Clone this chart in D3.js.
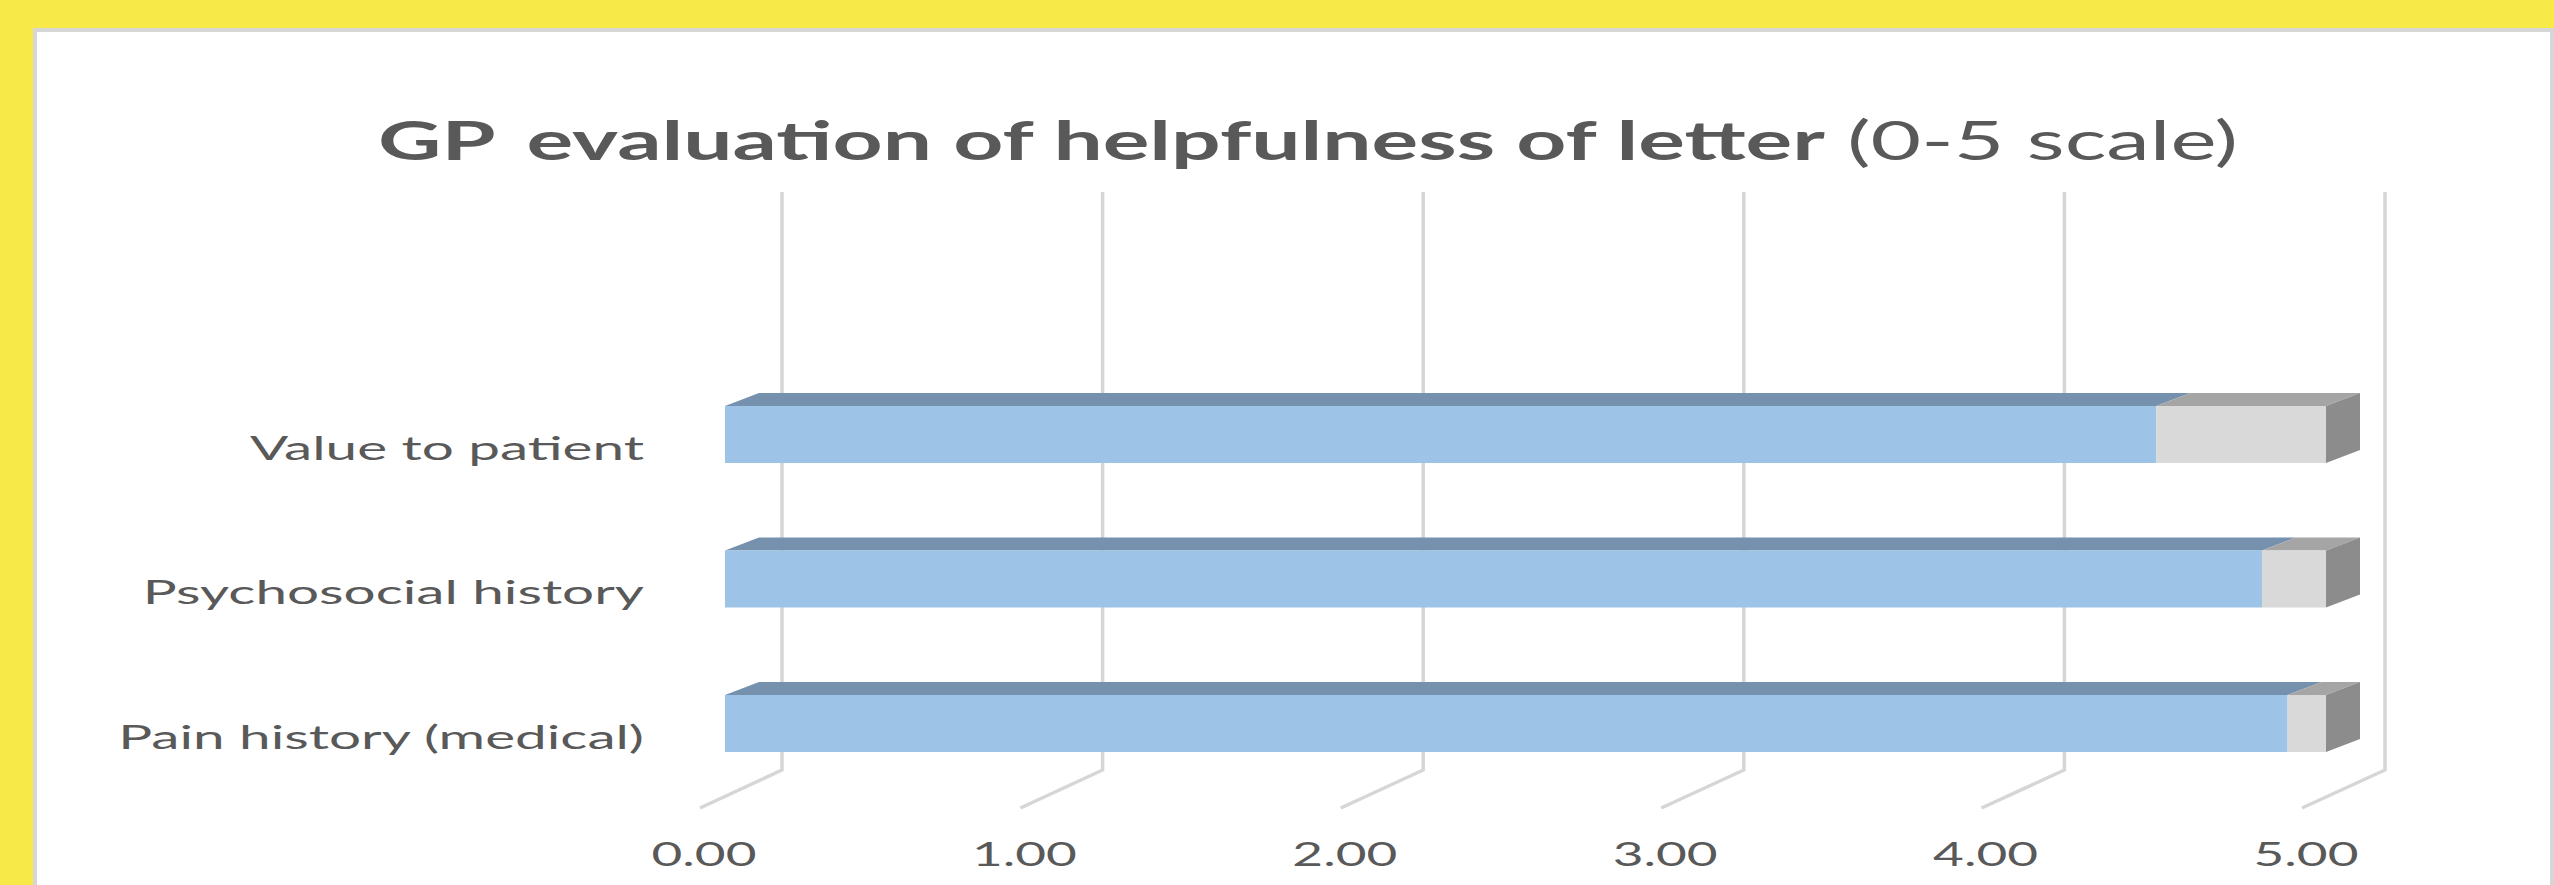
<!DOCTYPE html>
<html>
<head>
<meta charset="utf-8">
<script src="https://cdn.jsdelivr.net/npm/d3@7/dist/d3.min.js"></script>
<style>
  html, body { margin: 0; padding: 0; background: #f6e948; }
  svg { display: block; }
</style>
</head>
<body>
<svg id="chart" width="2554" height="885"></svg>
<script>
// ---- data ----
const categories = ["Value to patient", "Psychosocial history", "Pain history (medical)"];
const helpfulness = [4.47, 4.80, 4.88];
const remainder = [0.53, 0.20, 0.12];
const tickValues = [0, 1, 2, 3, 4, 5];
const tickLabels = ["0.00", "1.00", "2.00", "3.00", "4.00", "5.00"];
const titleBoldA = "GP";
const titleBoldB = " evaluation of helpfulness of letter";
const titleRegular = " (0-5 scale)";

// ---- layout ----
const W = 2554, H = 885;
const svg = d3.select("#chart");

svg.append("rect").attr("x", 35).attr("y", 30).attr("width", W - 37).attr("height", H)
  .attr("fill", "#ffffff").attr("stroke", "#d6d6d6").attr("stroke-width", 4);

// scales
const xBack = d3.scaleLinear().domain([0, 5]).range([782, 2385]);   // back wall
const xFloor = d3.scaleLinear().domain([0, 5]).range([700, 2302]);  // floor front edge
const xBar = d3.scaleLinear().domain([0, 5]).range([725, 2326]);    // bar front faces
const y = d3.scalePoint().domain(categories).range([434.5, 723.5]);
const barH = 57, depthX = 34, depthY = 13;
const gridTop = 192, wallBottom = 770, floorFront = 808;

// gridlines (back wall + floor)
const grid = svg.append("g");
tickValues.forEach(v => {
  grid.append("path")
    .attr("d", `M${xBack(v)},${gridTop} L${xBack(v)},${wallBottom} L${xFloor(v)},${floorFront}`)
    .attr("fill", "none").attr("stroke", "#d6d6d6").attr("stroke-width", 3.5);
});

// bars
const series = [
  { values: helpfulness, start: categories.map(() => 0), front: "#9dc3e6", top: "#7591ae", side: "#6f8aa6" },
  { values: remainder, start: helpfulness, front: "#d9d9d9", top: "#a5a5a5", side: "#8c8c8c" }
];
const bars = svg.append("g");
categories.forEach((c, i) => {
  const top = y(c) - barH / 2, bottom = y(c) + barH / 2;
  series.forEach((s, si) => {
    const x0 = xBar(s.start[i]), x1 = xBar(s.start[i] + s.values[i]);
    bars.append("path")
      .attr("d", `M${x0},${top} L${x1},${top} L${x1 + depthX},${top - depthY} L${x0 + depthX},${top - depthY} Z`)
      .attr("fill", s.top);
    if (si === series.length - 1) {
      bars.append("path")
        .attr("d", `M${x1},${top} L${x1 + depthX},${top - depthY} L${x1 + depthX},${bottom - depthY} L${x1},${bottom} Z`)
        .attr("fill", s.side);
    }
  });
  series.forEach(s => {
    const x0 = xBar(s.start[i]), x1 = xBar(s.start[i] + s.values[i]);
    bars.append("rect").attr("x", x0).attr("y", top).attr("width", x1 - x0).attr("height", barH)
      .attr("fill", s.front);
  });
});

// helper: stretch text horizontally to a target width (reference image is stretched)
function stretch(sel, targetWidth) {
  const w = sel.node().getComputedTextLength();
  return targetWidth / w;
}

// category labels
const labelG = svg.append("g");
const labels = categories.map(c =>
  labelG.append("text").text(c)
    .attr("font-family", "Lato, 'Open Sans', sans-serif").attr("font-size", 33)
    .attr("fill", "#595959").attr("text-anchor", "end"));
const sxLab = stretch(labels[2], 526);
labels.forEach((t, i) => {
  t.attr("transform", `translate(644,${y(categories[i]) + 25}) scale(${sxLab},1)`);
});

// tick labels
const tickG = svg.append("g");
const ticks = tickValues.map((v, i) =>
  tickG.append("text").text(tickLabels[i])
    .attr("font-family", "Lato, 'Open Sans', sans-serif").attr("font-size", 33)
    .attr("fill", "#595959").attr("text-anchor", "middle"));
const sxTick = stretch(ticks[0], 105);
ticks.forEach((t, i) => {
  t.attr("transform", `translate(${xFloor(tickValues[i]) + 4},866) scale(${sxTick},1)`);
});

// title
const title = svg.append("text")
  .attr("font-family", "Lato, 'Open Sans', sans-serif").attr("font-size", 54)
  .attr("fill", "#595959");
title.append("tspan").attr("font-weight", "bold").text(titleBoldA);
title.append("tspan").attr("font-weight", "bold").attr("dx", 6).text(titleBoldB);
title.append("tspan").attr("font-weight", "normal").text(titleRegular);
const sxTitle = stretch(title, 1848);
title.attr("transform", `translate(378,160) scale(${sxTitle},1)`);
</script>
</body>
</html>
